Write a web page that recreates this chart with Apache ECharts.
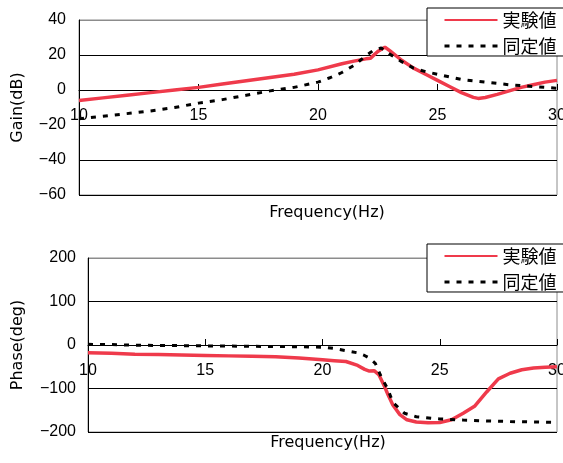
<!DOCTYPE html>
<html>
<head>
<meta charset="utf-8">
<script src="https://cdn.jsdelivr.net/npm/echarts@6/dist/echarts.min.js"></script>
<style>
  html, body { margin: 0; padding: 0; background: #fff; }
  #chart { width: 563px; height: 463px; }
</style>
</head>
<body>
<div id="chart"></div>
<script>
// gain, measured (red)
const gainExpFreq = [10, 11, 12, 13, 14, 15, 16, 17, 18, 19, 20, 21, 21.5, 22, 22.2, 22.5, 22.8, 23, 23.5, 24, 24.5, 25, 25.5, 26, 26.5, 26.7, 27, 27.5, 28, 28.5, 29, 29.5, 30];
const gainExp = [-6, -4.5, -3, -1.5, 0, 1.5, 3.4, 5.3, 7.2, 9, 11.5, 15, 16.5, 17.8, 18.2, 22, 24.5, 22.5, 17, 12.5, 9, 5.5, 2, -1.5, -4.2, -4.8, -4.3, -2.5, -0.5, 1.5, 3, 4.5, 5.5];

// gain, identified model (black dashed)
const gainFitFreq = [10, 11, 12, 13, 14, 15, 16, 17, 18, 19, 20, 20.5, 21, 21.5, 22, 22.3, 22.65, 23, 23.5, 24, 24.5, 25, 26, 27, 28, 29, 30];
const gainFit = [-16.5, -15, -13.5, -12, -10, -7.5, -5.5, -3, -0.5, 1.5, 4.5, 7, 10, 14, 19.5, 22.5, 24, 20.5, 16.2, 12.5, 10.5, 9, 6, 4.5, 3, 2, 1];

// phase, measured (red)
const phaseExpFreq = [10, 11, 12, 13, 14, 15, 16, 17, 18, 19, 20, 20.5, 21, 21.5, 21.8, 22, 22.2, 22.4, 22.6, 22.8, 23, 23.3, 23.6, 24, 24.5, 25, 25.5, 26, 26.5, 27, 27.5, 28, 28.5, 29, 29.5, 30];
const phaseExp = [-18, -19, -21, -22, -23, -24, -25, -26, -27, -30, -34, -36, -38, -47, -56, -60, -59, -68, -90, -115, -138, -160, -172, -177, -179, -178, -172, -157, -140, -108, -78, -65, -57, -53, -51, -50];

// phase, identified model (black dashed)
const phaseFitFreq = [10, 11, 12, 13, 14, 15, 16, 17, 18, 19, 20, 20.5, 21, 21.5, 21.75, 22, 22.25, 22.5, 22.8, 23, 23.5, 24, 25, 26, 27, 28, 29, 30];
const phaseFit = [1.5, 1, -0.5, -1, -1.5, -2, -2.5, -3, -3.5, -4, -5, -8, -13, -18, -23, -30, -42, -73, -103, -132, -157, -165, -170, -172.5, -174.5, -176, -177, -178];

const seriesNames = ['実験値', '同定値'];
const freqTicks = { min: 10, max: 30, interval: 5 };
const gainTicks = { min: -60, max: 40, interval: 20 };
const phaseTicks = { min: -200, max: 200, interval: 100 };

const zip = (xs, ys) => xs.map((x, i) => [x, ys[i]]);

const red = '#ef3a4b';
const tickFont = { fontFamily: 'Liberation Sans', fontSize: 16, color: '#000' };
const nameFont = { fontFamily: 'DejaVu Sans', fontSize: 16, color: '#000' };
const legendFont = { fontFamily: 'Noto Sans CJK JP', fontSize: 18, color: '#000' };
const minus = v => String(v).replace('-', '\u2212');

// x axis sits on the zero line: shift it up from the grid bottom
function xAxisFor(gridIndex, offset) {
  return {
    type: 'value', gridIndex, position: 'bottom', offset,
    min: freqTicks.min, max: freqTicks.max, interval: freqTicks.interval,
    axisLine: { show: true, onZero: false, lineStyle: { color: '#000', width: 1 } },
    axisTick: { show: true, inside: true, length: 6, lineStyle: { color: '#000' } },
    axisLabel: { ...tickFont, margin: 18 },
    splitLine: { show: false }
  };
}

function yAxisFor(gridIndex, ticks, name, nameGap, margin) {
  const n = Math.round((ticks.max - ticks.min) / ticks.interval) + 1;
  const colors = Array(n).fill('#000');
  colors[n - 1] = '#8c8c8c';
  return {
    type: 'value', gridIndex,
    min: ticks.min, max: ticks.max, interval: ticks.interval,
    name, nameLocation: 'middle', nameGap, nameTextStyle: nameFont, nameMoveOverlap: false,
    axisLine: { show: true, lineStyle: { color: '#000', width: 1 } },
    axisTick: { show: false },
    axisLabel: { ...tickFont, margin, formatter: minus },
    splitLine: { show: true, lineStyle: { color: colors, width: 1 } }
  };
}

function legendAt(top) {
  return {
    left: 427, top, orient: 'vertical',
    data: [
      { name: seriesNames[0], lineStyle: { width: 2 }, itemStyle: { opacity: 0 } },
      { name: seriesNames[1], lineStyle: { width: 3 }, itemStyle: { opacity: 0 } }
    ],
    itemWidth: 53, itemHeight: 14, itemGap: 8,
    padding: [3, 10, 1, 16],
    backgroundColor: '#fff', borderColor: '#000', borderWidth: 1, borderRadius: 0,
    textStyle: legendFont,
    selectedMode: false
  };
}

const expLine = idx => ({
  name: seriesNames[0], type: 'line', xAxisIndex: idx, yAxisIndex: idx,
  symbol: 'none', lineStyle: { color: red, width: 3.5 }, itemStyle: { color: red },
  z: 3
});
const fitLine = idx => ({
  name: seriesNames[1], type: 'line', xAxisIndex: idx, yAxisIndex: idx,
  symbol: 'none', lineStyle: { color: '#000', width: 3, type: [5, 7] }, itemStyle: { color: '#000' },
  z: 4
});

const chart = echarts.init(document.getElementById('chart'), null, { renderer: 'canvas' });
chart.setOption({
  animation: false,
  backgroundColor: '#fff',
  grid: [
    { left: 79, right: 6, top: 20, height: 175, show: true, borderColor: '#8c8c8c', borderWidth: 1, backgroundColor: 'transparent', outerBoundsMode: 'none' },
    { left: 88, right: 6, top: 258, height: 174, show: true, borderColor: '#8c8c8c', borderWidth: 1, backgroundColor: 'transparent', outerBoundsMode: 'none' }
  ],
  xAxis: [xAxisFor(0, -105), xAxisFor(1, -87)],
  yAxis: [
    yAxisFor(0, gainTicks, 'Gain(dB)', 53, 13),
    yAxisFor(1, phaseTicks, 'Phase(deg)', 62, 12)
  ],
  legend: [legendAt(8), legendAt(244)],
  graphic: [
    { type: 'text', x: 327, y: 213, style: { text: 'Frequency(Hz)', font: '16px "DejaVu Sans"', fill: '#000', align: 'center', verticalAlign: 'middle' } },
    { type: 'text', x: 328, y: 443, style: { text: 'Frequency(Hz)', font: '16px "DejaVu Sans"', fill: '#000', align: 'center', verticalAlign: 'middle' } }
  ],
  series: [
    { ...expLine(0), data: zip(gainExpFreq, gainExp) },
    { ...fitLine(0), data: zip(gainFitFreq, gainFit) },
    { ...expLine(1), data: zip(phaseExpFreq, phaseExp) },
    { ...fitLine(1), data: zip(phaseFitFreq, phaseFit) }
  ]
});
</script>
</body>
</html>
